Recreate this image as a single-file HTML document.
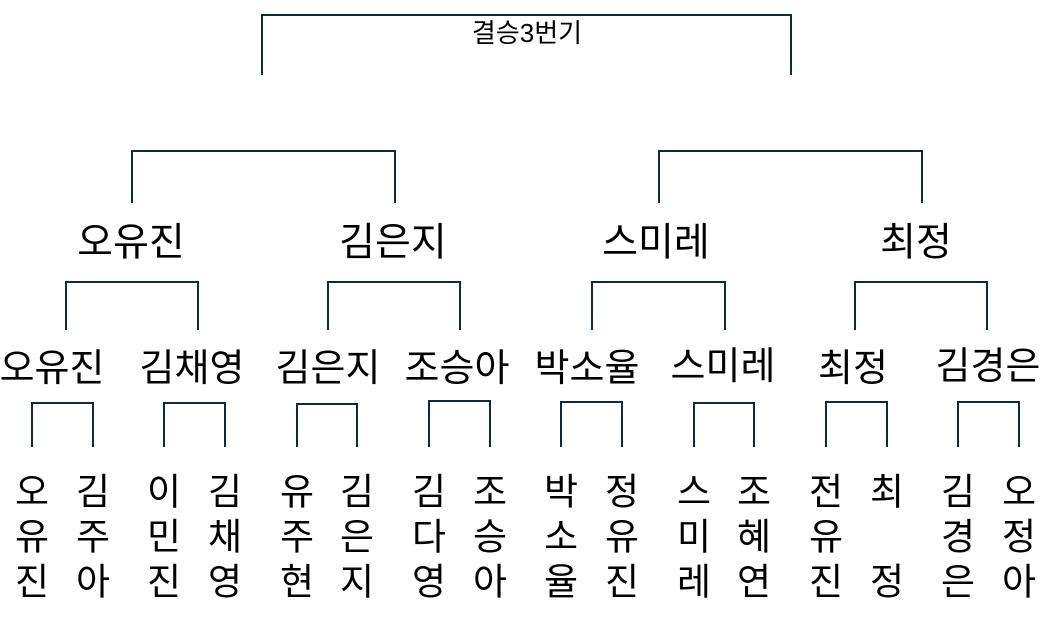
<!DOCTYPE html>
<html><head><meta charset="utf-8"><style>
html,body{margin:0;padding:0;background:#fff;width:1048px;height:621px;overflow:hidden}
svg{display:block}
text{font-family:"Liberation Sans","Noto Sans CJK KR",sans-serif;fill:#000;text-anchor:middle;dominant-baseline:central}
.b{fill:none;stroke:#0d2b3a;stroke-width:2}
.n1{font-size:39px}
.n2{font-size:38px}
.c{font-size:37px}
</style></head><body>
<svg width="1048" height="621" viewBox="0 0 1048 621">
<path class="b" d="M262 75V15H791V75"/>
<text x="527" y="33" style="font-size:26px">결승3번기</text>

<path class="b" d="M132 203V151H395V203"/>
<path class="b" d="M659 203V151H922V203"/>
<text class="n1" x="131" y="243">오유진</text>
<text class="n1" x="393" y="243">김은지</text>
<text class="n1" x="656" y="243">스미레</text>
<text class="n1" x="916" y="243">최정</text>

<path class="b" d="M66 330V282H198V330"/>
<path class="b" d="M328 330V282H460V330"/>
<path class="b" d="M592 330V282H725V330"/>
<path class="b" d="M855 330V282H987V330"/>
<text class="n2" x="52" y="369">오유진</text>
<text class="n2" x="192" y="369">김채영</text>
<text class="n2" x="328" y="369">김은지</text>
<text class="n2" x="457" y="369">조승아</text>
<text class="n2" x="587" y="369">박소율</text>
<text class="n2" x="723" y="367">스미레</text>
<text class="n2" x="853" y="369">최정</text>
<text class="n2" x="988" y="367">김경은</text>

<path class="b" d="M32 447V403H93V447"/>
<path class="b" d="M164 447V403H225V447"/>
<path class="b" d="M297 447V404H357V447"/>
<path class="b" d="M429 447V401H490V447"/>
<path class="b" d="M561 447V402H622V447"/>
<path class="b" d="M694 447V403H754V447"/>
<path class="b" d="M826 447V402H887V447"/>
<path class="b" d="M958 447V402H1019V447"/>

<g>
<text class="c" x="32" y="492">오</text><text class="c" x="32" y="537">유</text><text class="c" x="32" y="582">진</text>
<text class="c" x="93" y="492">김</text><text class="c" x="93" y="537">주</text><text class="c" x="93" y="582">아</text>
<text class="c" x="164" y="492">이</text><text class="c" x="164" y="537">민</text><text class="c" x="164" y="582">진</text>
<text class="c" x="225" y="492">김</text><text class="c" x="225" y="537">채</text><text class="c" x="225" y="582">영</text>
<text class="c" x="297" y="492">유</text><text class="c" x="297" y="537">주</text><text class="c" x="297" y="582">현</text>
<text class="c" x="357" y="492">김</text><text class="c" x="357" y="537">은</text><text class="c" x="357" y="582">지</text>
<text class="c" x="429" y="492">김</text><text class="c" x="429" y="537">다</text><text class="c" x="429" y="582">영</text>
<text class="c" x="490" y="492">조</text><text class="c" x="490" y="537">승</text><text class="c" x="490" y="582">아</text>
<text class="c" x="561" y="492">박</text><text class="c" x="561" y="537">소</text><text class="c" x="561" y="582">율</text>
<text class="c" x="622" y="492">정</text><text class="c" x="622" y="537">유</text><text class="c" x="622" y="582">진</text>
<text class="c" x="694" y="492">스</text><text class="c" x="694" y="537">미</text><text class="c" x="694" y="582">레</text>
<text class="c" x="754" y="492">조</text><text class="c" x="754" y="537">혜</text><text class="c" x="754" y="582">연</text>
<text class="c" x="826" y="492">전</text><text class="c" x="826" y="537">유</text><text class="c" x="826" y="582">진</text>
<text class="c" x="887" y="492">최</text><text class="c" x="887" y="582">정</text>
<text class="c" x="958" y="492">김</text><text class="c" x="958" y="537">경</text><text class="c" x="958" y="582">은</text>
<text class="c" x="1019" y="492">오</text><text class="c" x="1019" y="537">정</text><text class="c" x="1019" y="582">아</text>
</g>
</svg>
</body></html>
